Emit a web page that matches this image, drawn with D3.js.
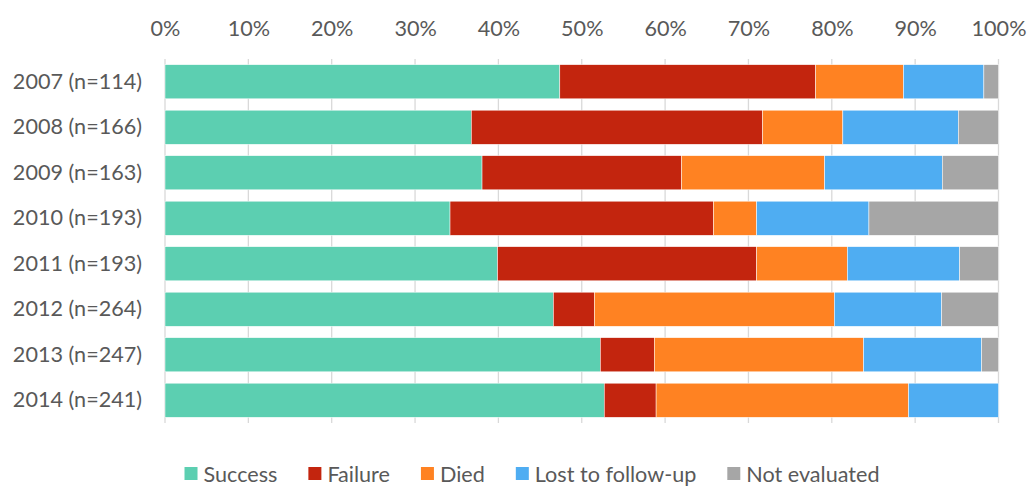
<!DOCTYPE html>
<html>
<head>
<meta charset="utf-8">
<script src="https://cdn.jsdelivr.net/npm/d3@7"></script>
<style>
  body { margin: 0; background: #fff; }
  svg text { font-family: Lato, "Open Sans", sans-serif; fill: #595959; }
</style>
</head>
<body>
<svg id="chart" width="1029" height="487"></svg>
<script>
// Treatment outcomes per cohort year (patient counts)
const years = ["2007", "2008", "2009", "2010", "2011", "2012", "2013", "2014"];
const sampleSizes = [114, 166, 163, 193, 193, 264, 247, 241];
const outcomes = ["Success", "Failure", "Died", "Lost to follow-up", "Not evaluated"];
const success      = [54, 61, 62, 66, 77, 123, 129, 127];
const failure      = [35, 58, 39, 61, 60, 13, 16, 15];
const died         = [12, 16, 28, 10, 21, 76, 62, 73];
const lostToFollow = [11, 23, 23, 26, 26, 34, 35, 26];
const notEvaluated = [2, 8, 11, 30, 9, 18, 5, 0];
const tickValues = [0, 0.1, 0.2, 0.3, 0.4, 0.5, 0.6, 0.7, 0.8, 0.9, 1];
const outcomeColors = ["#5ccfb1", "#c3250e", "#ff8222", "#4fadf2", "#a6a6a6"];

const seriesByOutcome = [success, failure, died, lostToFollow, notEvaluated];
const rows = years.map((yr, i) => {
  const row = { label: `${yr} (n=${sampleSizes[i]})` };
  outcomes.forEach((o, k) => { row[o] = seriesByOutcome[k][i]; });
  return row;
});

const svg = d3.select("#chart");
const plotLeft = 165, plotRight = 998.5, plotTop = 59, plotBottom = 423;
const fontSize = 21.6;

const x = d3.scaleLinear().domain([0, 1]).range([plotLeft, plotRight]);
const y = d3.scaleBand()
  .domain(rows.map(d => d.label))
  .range([plotTop, plotBottom])
  .paddingInner(0.25)
  .paddingOuter(0.125);
const color = d3.scaleOrdinal().domain(outcomes).range(outcomeColors);

// vertical gridlines
svg.append("g")
  .selectAll("line")
  .data(tickValues)
  .join("line")
  .attr("x1", d => x(d)).attr("x2", d => x(d))
  .attr("y1", plotTop).attr("y2", plotBottom)
  .attr("stroke", "#d9d9d9")
  .attr("stroke-width", 1.3);

// stacked 100% bars
const stacked = d3.stack().keys(outcomes).offset(d3.stackOffsetExpand)(rows);
svg.append("g")
  .selectAll("g")
  .data(stacked)
  .join("g")
  .attr("fill", s => color(s.key))
  .selectAll("rect")
  .data(s => s)
  .join("rect")
  .attr("x", d => x(d[0]))
  .attr("width", d => Math.max(0, x(d[1]) - x(d[0])))
  .attr("y", d => y(d.data.label))
  .attr("height", y.bandwidth())
  .attr("stroke", "#ffffff")
  .attr("stroke-width", 0.5);

// percentage axis along the top
const topAxis = svg.append("g")
  .attr("transform", "translate(0,35.5)")
  .call(d3.axisTop(x).tickValues(tickValues).tickFormat(d3.format(".0%")).tickSize(0).tickPadding(0));
topAxis.select(".domain").remove();
topAxis.selectAll("text").attr("font-size", fontSize).attr("font-family", null);

// category axis on the left
const leftAxis = svg.append("g")
  .attr("transform", `translate(${plotLeft},0)`)
  .call(d3.axisLeft(y).tickSize(0).tickPadding(23));
leftAxis.select(".domain").remove();
leftAxis.selectAll("text").attr("font-size", fontSize).attr("font-family", null);

// legend
const legend = svg.append("g");
const swatch = 13, swatchGap = 6, itemGap = 31;
let cursor = 0;
outcomes.forEach(o => {
  const g = legend.append("g");
  g.append("rect")
    .attr("x", 0).attr("y", -swatch / 2 - 0.5)
    .attr("width", swatch).attr("height", swatch)
    .attr("fill", color(o));
  const t = g.append("text")
    .attr("x", swatch + swatchGap).attr("dy", "0.35em")
    .attr("font-size", fontSize)
    .text(o);
  const w = swatch + swatchGap + t.node().getComputedTextLength();
  g.attr("transform", `translate(${cursor},0)`);
  cursor += w + itemGap;
});
const legendWidth = cursor - itemGap;
legend.attr("transform", `translate(${532 - legendWidth / 2},474)`);
</script>
</body>
</html>
